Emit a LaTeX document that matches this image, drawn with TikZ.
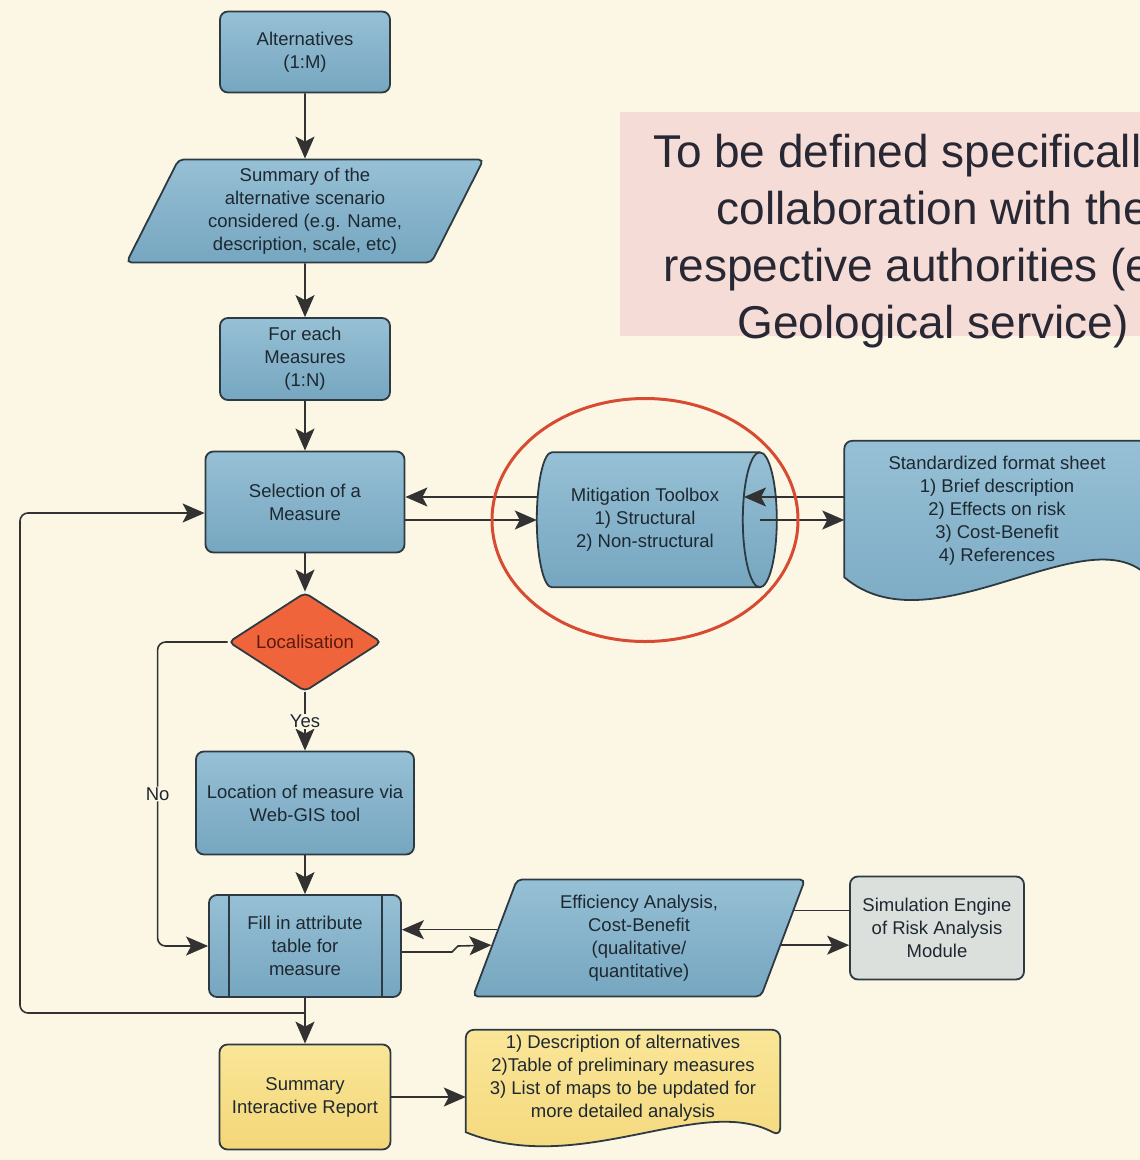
\documentclass[tikz,border=0pt]{standalone}
\usepackage{fontspec}
\setmainfont{Liberation Sans}
\usetikzlibrary{shapes.geometric, arrows.meta, calc}
\definecolor{bgcream}{RGB}{252, 247, 228}
\definecolor{boxtop}{RGB}{150, 192, 213}
\definecolor{boxbot}{RGB}{118, 166, 192}
\definecolor{edgegray}{RGB}{45, 58, 66}
\definecolor{ink}{RGB}{30, 40, 48}
\definecolor{arrowgray}{RGB}{50, 50, 50}
\definecolor{yeltop}{RGB}{250, 230, 152}
\definecolor{yelbot}{RGB}{243, 214, 120}
\definecolor{simgray}{RGB}{220, 224, 220}
\definecolor{decorange}{RGB}{240, 100, 60}
\definecolor{decink}{RGB}{90, 26, 14}
\definecolor{ringred}{RGB}{215, 75, 50}
\definecolor{notepink}{RGB}{245, 220, 214}
\definecolor{noteink}{RGB}{40, 40, 52}
\newcommand{\boxfont}{\fontsize{18.5}{23}\selectfont}
\newcommand{\notefont}{\fontsize{46}{57}\selectfont}
\pgfdeclarelayer{back}
\pgfsetlayers{back,main}

\begin{document}
\begin{tikzpicture}[x=1pt, y=-1pt,
        flowbox/.style={draw=edgegray, line width=1.8pt, rounded corners=8pt,
            top color=boxtop, bottom color=boxbot, text=ink,
            align=center, font=\boxfont, inner sep=2pt},
        iobox/.style={flowbox, trapezium, trapezium stretches body,
            rounded corners=5pt},
        decision/.style={flowbox, diamond, aspect=1.55, inner sep=0pt,
            rounded corners=5pt, top color=decorange,
            bottom color=decorange, text=decink},
        reportbox/.style={flowbox, top color=yeltop, bottom color=yelbot},
        simbox/.style={flowbox, top color=simgray, bottom color=simgray},
        docnode/.style={text=ink, align=center, font=\boxfont, inner sep=0pt},
        docline/.style={draw=edgegray, line width=1.8pt},
        lbl/.style={fill=bgcream, inner sep=1pt, text=ink, font=\boxfont},
        arr/.style={-{Stealth[length=22pt, width=19pt, inset=5pt]},
            line width=1.6pt, draw=arrowgray},
        link/.style={line width=1.6pt, draw=arrowgray},
        ring/.style={ellipse, draw=ringred, line width=3pt, inner sep=0pt}
    ]

    \path[use as bounding box, clip] (0,0) rectangle (1140,1160);
    \begin{pgfonlayer}{back}
        \fill[bgcream] (0,0) rectangle (1140,1160);
        \fill[notepink] (620,112) rectangle (1160,336);
    \end{pgfonlayer}

    % main column
    \node[flowbox, minimum width=170, minimum height=81] (alt) at (305,52)
        {Alternatives\\(1:M)};
    \node[iobox, minimum width=357, minimum height=103,
          trapezium left angle=60, trapezium right angle=120] (summ) at (305,211)
        {Summary of the\\alternative scenario\\considered (e.g. Name,\\description, scale, etc)};
    \node[flowbox, minimum width=170, minimum height=82] (foreach) at (305,359)
        {For each\\Measures\\(1:N)};
    \node[flowbox, minimum width=199, minimum height=101] (select) at (305,502)
        {Selection of a\\Measure};
    \node[decision, minimum width=153, minimum height=99] (local) at (305,642)
        {Localisation};
    \node[flowbox, minimum width=218, minimum height=103] (locate) at (305,803)
        {Location of measure via\\Web-GIS tool};
    \node[flowbox, minimum width=192, minimum height=102] (fillin) at (305,946)
        {Fill in attribute\\table for\\measure};
    \draw[edgegray, line width=1.8pt]
        ([xshift=21pt]fillin.north west) -- ([xshift=21pt]fillin.south west)
        ([xshift=-20pt]fillin.north east) -- ([xshift=-20pt]fillin.south east);
    \node[reportbox, minimum width=171, minimum height=105] (report) at (305,1097)
        {Summary\\Interactive Report};

    % right hand side
    \node[docnode, minimum width=216, minimum height=135] (tool) at (645,520)
        {Mitigation Toolbox\\1) Structural\\2) Non-structural};
    \node[docnode, minimum width=305, minimum height=136] (sheet) at (997,511)
        {Standardized format sheet\\1) Brief description\\2) Effects on risk\\3) Cost-Benefit\\4) References};
    \node[iobox, minimum width=332, minimum height=117,
          trapezium left angle=64, trapezium right angle=116] (effic) at (639,938)
        {Efficiency Analysis,\\Cost-Benefit\\(qualitative/\\quantitative)};
    \node[simbox, minimum width=174, minimum height=103] (sim) at (937,928)
        {Simulation Engine\\of Risk Analysis\\Module};
    \node[docnode, minimum width=314, minimum height=96] (desc) at (623,1078)
        {1) Description of alternatives\\2)Table of preliminary measures\\3) List of maps to be updated for\\more detailed analysis};
    \node[text=noteink, font=\notefont, align=center, inner sep=0pt] (note) at (933,241)
        {To be defined specifically in\\collaboration with the\\respective authorities (e.g.\\Geological service)};

    \begin{pgfonlayer}{back}
        \draw[docline, top color=boxtop, bottom color=boxbot]
            ([xshift=15pt]tool.north west) -- ++(208,0)
            arc[start angle=-90, end angle=90, x radius=17, y radius=67.5]
            -- ++(-208,0)
            arc[start angle=90, end angle=270, x radius=15, y radius=67.5] -- cycle;
        \draw[edgegray, line width=1.8pt] ([xshift=223pt]tool.north west)
            arc[start angle=270, end angle=90, x radius=17, y radius=67.5];
        \draw[docline, rounded corners=8pt, top color=boxtop, bottom color=boxbot]
            ([yshift=2pt]sheet.south west) -- ([yshift=2pt]sheet.north west)
            -- ([yshift=2pt]sheet.north east) -- ([yshift=2pt]sheet.south east)
            [sharp corners] .. controls +(-70,-57) and +(85,73)
            .. ([yshift=2pt]sheet.south west) -- cycle;
        \draw[docline, rounded corners=8pt, top color=yeltop, bottom color=yelbot]
            ([yshift=-6pt]desc.south west) -- (desc.north west) -- (desc.north east)
            -- ([yshift=-10pt]desc.south east) [sharp corners] .. controls +(-80,-43) and +(114,46)
            .. ([yshift=-6pt]desc.south west) -- cycle;
    \end{pgfonlayer}

    % connectors
    \draw[arr] (alt.south) -- (summ.north);
    \draw[arr] (summ.south) -- (foreach.north);
    \draw[arr] (foreach.south) -- (select.north);
    \draw[arr] (select.south) -- (local.north);
    \draw[arr] (local.south) -- node[lbl] {Yes} (locate.north);
    \draw[arr] (locate.south) -- (fillin.north);
    \draw[arr] (fillin.south) -- (report.north);
    \draw[arr] (report.east) -- (report.east -| desc.west);

    \coordinate (selin) at ([yshift=-11pt]select.west);
    \coordinate (loopstart) at ($(fillin.south)!0.33!(report.north)$);
    \coordinate (leftrail) at (20,0);
    \draw[arr, rounded corners=8pt] (loopstart) -| (leftrail |- selin) -- (selin);
    \draw[arr, rounded corners=8pt] (local.west) -- ++(-70,0)
        |- node[lbl, pos=0.25] {No} (fillin.west);

    \draw[arr] ([yshift=23pt]tool.west) -- ([yshift=23pt]tool.west -| select.east);
    \draw[arr] (tool.west -| select.east) -- (tool.west);
    \draw[arr] ([yshift=14pt]sheet.west) -- ([xshift=99pt, yshift=23pt]tool.center);
    \draw[arr] ([xshift=115pt]tool.center) -- (tool.center -| sheet.west);

    \coordinate (effL1) at ($(effic.bottom left corner)!0.57!(effic.top left corner)$);
    \coordinate (effL2) at ($(effic.bottom left corner)!0.44!(effic.top left corner)$);
    \coordinate (effR1) at ($(effic.bottom right corner)!0.73!(effic.top right corner)$);
    \coordinate (effR2) at ($(effic.bottom right corner)!0.44!(effic.top right corner)$);
    \draw[arr] (effL1) -- (effL1 -| fillin.east);
    \draw[arr] ([yshift=-6pt]fillin.east) -- ++(50,0) -- ++(6,-6) -- (effL2);
    \draw[link] (effR1) -- (effR1 -| sim.west);
    \draw[arr] (effR2) -- (effR2 -| sim.west);

    \node[ring, minimum width=306, minimum height=243] (ring) at (tool.center) {};

\end{tikzpicture}
\end{document}
